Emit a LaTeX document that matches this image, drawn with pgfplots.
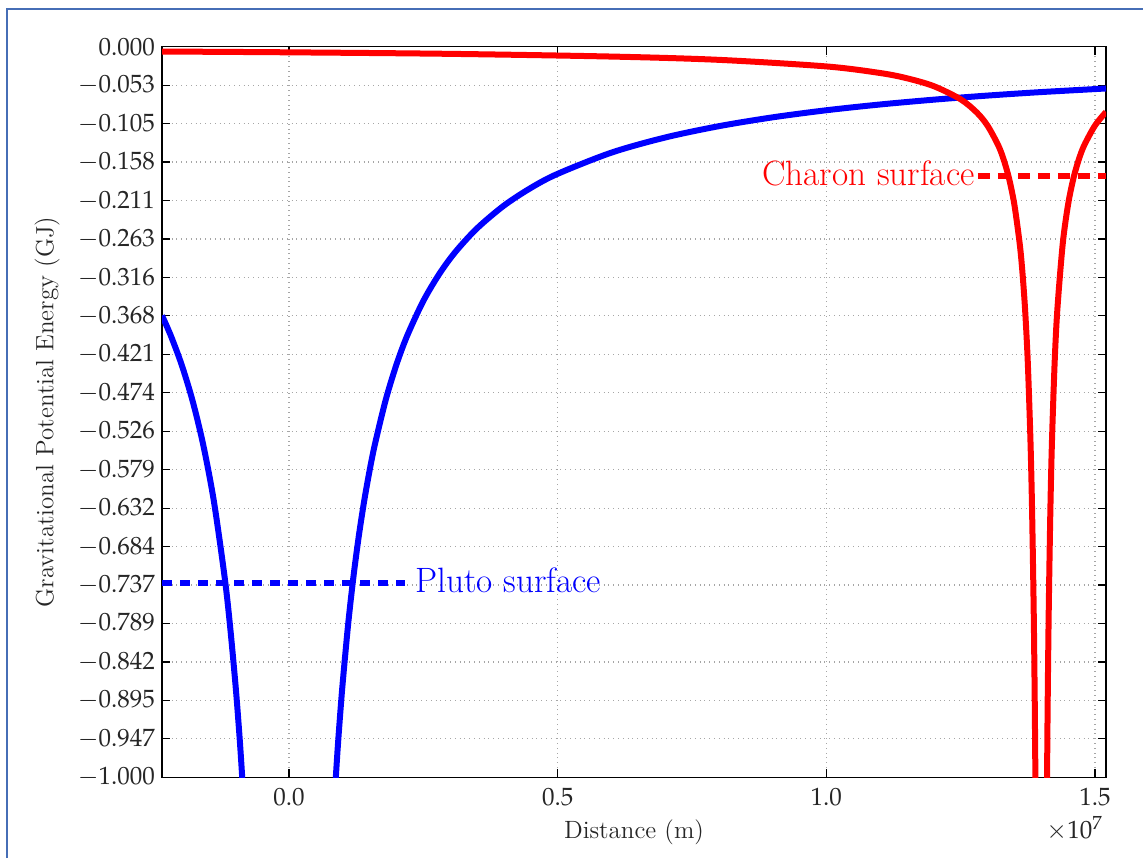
\documentclass[border=0pt]{standalone}
\usepackage{mathpazo}
\usepackage{pgfplots}
\pgfplotsset{compat=1.18}
\definecolor{framecol}{RGB}{70,110,182}
\begin{document}
\begin{tikzpicture}
\path[use as bounding box] (0,0) rectangle (571.5pt,429pt);
\draw[framecol, line width=1pt] (3.5pt,0) -- (3.5pt,424.5pt) -- (571.5pt,424.5pt);
\begin{axis}[
  at={(81pt,40.35pt)}, anchor=south west,
  scale only axis, width=472pt, height=365.3pt,
  xmin=-0.2364, xmax=1.5206, ymin=-1, ymax=0,
  axis line style={line width=0.8pt},
  tick align=inside, major tick length=4pt,
  tick style={black, line width=0.6pt},
  grid=major, grid style={gray!70, dotted, line width=0.6pt},
  xtick={0,0.5,1,1.5}, xticklabels={$0.0$,$0.5$,$1.0$,$1.5$},
  ytick={0,-0.05263,-0.10526,-0.15789,-0.21053,-0.26316,-0.31579,-0.36842,-0.42105,-0.47368,-0.52632,-0.57895,-0.63158,-0.68421,-0.73684,-0.78947,-0.84211,-0.89474,-0.94737,-1},
  yticklabels={$0.000$,$-0.053$,$-0.105$,$-0.158$,$-0.211$,$-0.263$,$-0.316$,$-0.368$,$-0.421$,$-0.474$,$-0.526$,$-0.579$,$-0.632$,$-0.684$,$-0.737$,$-0.789$,$-0.842$,$-0.895$,$-0.947$,$-1.000$},
  ticklabel style={font=\fontsize{12.5}{15}\selectfont, text=black!85},
  xticklabel style={yshift=-2pt},
  xlabel={Distance (m)}, ylabel={Gravitational Potential Energy (GJ)},
  label style={font=\fontsize{12.5}{15}\selectfont, text=black!85},
  xlabel style={at={(axis description cs:0.5,0)}, anchor=center, yshift=-27.5pt},
  ylabel style={at={(axis description cs:-0.1218,0.5)}, anchor=center},
  clip mode=individual,
]
% Pluto potential, left branch
\addplot[blue, line width=3pt, smooth] coordinates {
(-0.2364,-0.3680) (-0.22,-0.3955) (-0.20,-0.4350) (-0.18,-0.4833) (-0.16,-0.5438)
(-0.14,-0.6214) (-0.12,-0.7250) (-0.11,-0.7909) (-0.10,-0.8700) (-0.095,-0.9158)
(-0.09,-0.9667) (-0.0829,-1.05)};
% Pluto potential, right branch
\addplot[blue, line width=3pt, smooth] coordinates {
(0.0829,-1.05) (0.09,-0.9667) (0.095,-0.9158) (0.10,-0.8700) (0.11,-0.7909)
(0.12,-0.7250) (0.13,-0.6692) (0.14,-0.6214) (0.15,-0.5800) (0.16,-0.5438)
(0.18,-0.4833) (0.20,-0.4350) (0.22,-0.3955) (0.25,-0.3480) (0.28,-0.3107)
(0.31,-0.2806) (0.35,-0.2486) (0.40,-0.2175) (0.45,-0.1933) (0.50,-0.1740)
(0.60,-0.1450) (0.70,-0.1243) (0.80,-0.1088) (0.90,-0.0967) (1.00,-0.0870)
(1.10,-0.0791) (1.20,-0.0725) (1.30,-0.0669) (1.40,-0.0621) (1.5206,-0.0572)};
% Charon potential, left branch
\addplot[red, line width=3pt, smooth] coordinates {
(-0.2364,-0.0066) (0.0,-0.0077) (0.3,-0.0098) (0.6,-0.0135) (0.8,-0.0180)
(1.0,-0.0270) (1.1,-0.0360) (1.15,-0.0432) (1.2,-0.0540) (1.25,-0.0720)
(1.28,-0.0900) (1.30,-0.1080) (1.32,-0.1350) (1.33,-0.1543) (1.34,-0.1800)
(1.35,-0.2160) (1.36,-0.2700) (1.365,-0.3086) (1.37,-0.3600) (1.375,-0.4320)
(1.38,-0.5400) (1.383,-0.6353) (1.386,-0.7714) (1.388,-0.9000) (1.3897,-1.05)};
% Charon potential, right branch
\addplot[red, line width=3pt, smooth] coordinates {
(1.4103,-1.05) (1.412,-0.9000) (1.414,-0.7714) (1.417,-0.6353) (1.42,-0.5400)
(1.425,-0.4320) (1.43,-0.3600) (1.44,-0.2700) (1.45,-0.2160) (1.46,-0.1800)
(1.47,-0.1543) (1.48,-0.1350) (1.50,-0.1080) (1.5206,-0.0893)};
% surfaces
\addplot[blue, line width=3pt, dash pattern=on 5pt off 4pt] coordinates {(-0.2364,-0.734) (0.215,-0.734)};
\addplot[red, line width=3pt, dash pattern=on 6pt off 4pt] coordinates {(1.282,-0.177) (1.5206,-0.177)};
\node[anchor=west, inner sep=0pt, text=blue, font=\fontsize{17.6}{20}\selectfont] at (axis cs:0.2346,-0.731) {Pluto surface};
\node[anchor=east, inner sep=0pt, text=red, font=\fontsize{17.6}{20}\selectfont] at (axis cs:1.277,-0.174) {Charon surface};
\node[anchor=east, inner sep=0pt, text=black!85, font=\fontsize{12.5}{15}\selectfont] at ([yshift=-25.5pt]rel axis cs:0.997,0) {$\times10^{7}$};
\end{axis}
\end{tikzpicture}
\end{document}
